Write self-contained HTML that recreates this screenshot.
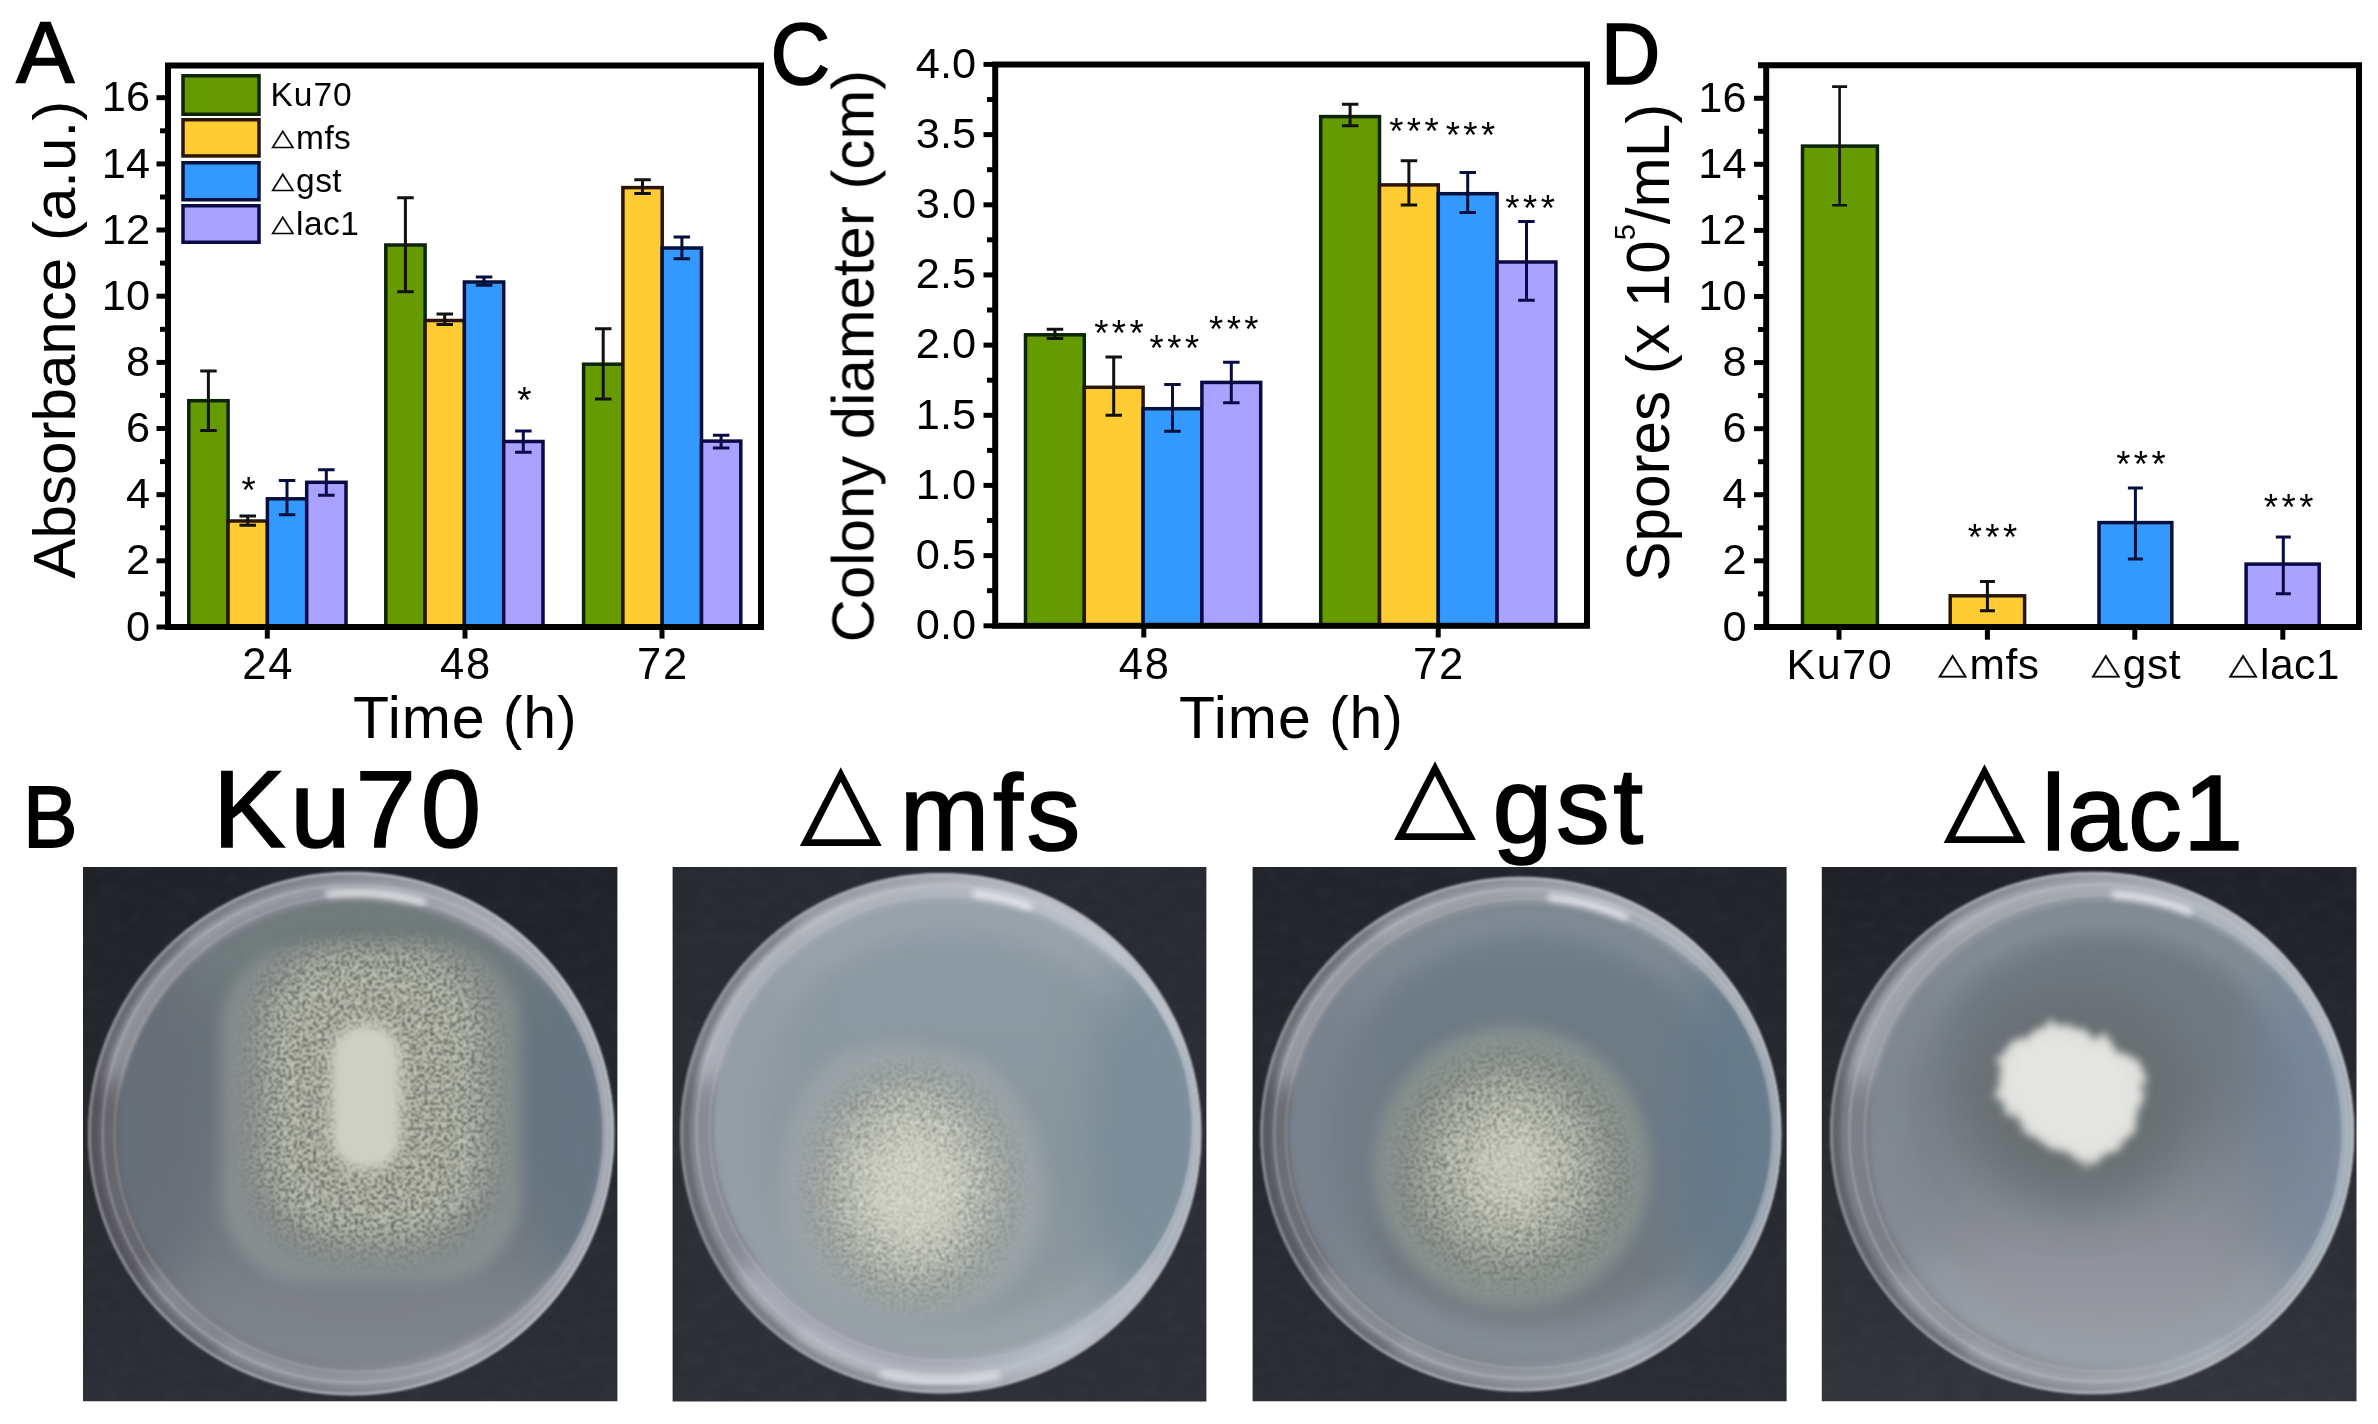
<!DOCTYPE html>
<html lang="en"><head><meta charset="utf-8"><title>Figure</title>
<style>html,body{margin:0;padding:0;background:#fff;overflow:hidden}svg{display:block}</style></head><body>
<svg width="2378" height="1424" viewBox="0 0 2378 1424" font-family="'Liberation Sans', sans-serif" fill="#000">
<rect width="2378" height="1424" fill="#fff"/>
<defs><filter color-interpolation-filters="sRGB" id="pg" x="0" y="0" width="2378" height="1424" filterUnits="userSpaceOnUse"><feGaussianBlur stdDeviation="0.55"/></filter></defs>
<g id="panelA" filter="url(#pg)">
<rect x="188.8" y="400.7" width="39.3" height="226.3" fill="#669b00" stroke="#0c2408" stroke-width="3.5"/>
<rect x="228.1" y="521.0" width="39.3" height="106.0" fill="#ffcc33" stroke="#2a1608" stroke-width="3.5"/>
<rect x="267.4" y="498.8" width="39.3" height="128.2" fill="#3399ff" stroke="#06103c" stroke-width="3.5"/>
<rect x="306.7" y="482.3" width="39.3" height="144.7" fill="#a9a2ff" stroke="#0a0a46" stroke-width="3.5"/>
<path d="M208.4 371.0V430.4M200.2 371.0h16.5M200.2 430.4h16.5" stroke="#111" stroke-width="3" fill="none"/>
<path d="M247.7 516.0V525.3M239.5 516.0h16.5M239.5 525.3h16.5" stroke="#111" stroke-width="3" fill="none"/>
<path d="M287.0 480.6V514.7M278.8 480.6h16.5M278.8 514.7h16.5" stroke="#06103c" stroke-width="3" fill="none"/>
<path d="M326.3 469.7V495.3M318.1 469.7h16.5M318.1 495.3h16.5" stroke="#0a0a46" stroke-width="3" fill="none"/>
<rect x="385.8" y="245.0" width="39.3" height="382.0" fill="#669b00" stroke="#0c2408" stroke-width="3.5"/>
<rect x="425.1" y="320.5" width="39.3" height="306.5" fill="#ffcc33" stroke="#2a1608" stroke-width="3.5"/>
<rect x="464.4" y="282.0" width="39.3" height="345.0" fill="#3399ff" stroke="#06103c" stroke-width="3.5"/>
<rect x="503.7" y="441.5" width="39.3" height="185.5" fill="#a9a2ff" stroke="#0a0a46" stroke-width="3.5"/>
<path d="M405.4 197.8V291.7M397.2 197.8h16.5M397.2 291.7h16.5" stroke="#111" stroke-width="3" fill="none"/>
<path d="M444.7 314.1V324.6M436.5 314.1h16.5M436.5 324.6h16.5" stroke="#111" stroke-width="3" fill="none"/>
<path d="M484.0 277.0V285.3M475.8 277.0h16.5M475.8 285.3h16.5" stroke="#06103c" stroke-width="3" fill="none"/>
<path d="M523.3 430.9V452.3M515.1 430.9h16.5M515.1 452.3h16.5" stroke="#0a0a46" stroke-width="3" fill="none"/>
<rect x="583.6" y="364.2" width="39.3" height="262.8" fill="#669b00" stroke="#0c2408" stroke-width="3.5"/>
<rect x="622.9" y="187.6" width="39.3" height="439.4" fill="#ffcc33" stroke="#2a1608" stroke-width="3.5"/>
<rect x="662.2" y="248.0" width="39.3" height="379.0" fill="#3399ff" stroke="#06103c" stroke-width="3.5"/>
<rect x="701.5" y="441.1" width="39.3" height="185.9" fill="#a9a2ff" stroke="#0a0a46" stroke-width="3.5"/>
<path d="M603.2 328.7V399.0M595.0 328.7h16.5M595.0 399.0h16.5" stroke="#111" stroke-width="3" fill="none"/>
<path d="M642.5 179.7V193.6M634.3 179.7h16.5M634.3 193.6h16.5" stroke="#111" stroke-width="3" fill="none"/>
<path d="M681.9 237.0V258.8M673.6 237.0h16.5M673.6 258.8h16.5" stroke="#06103c" stroke-width="3" fill="none"/>
<path d="M721.1 435.3V448.0M712.9 435.3h16.5M712.9 448.0h16.5" stroke="#0a0a46" stroke-width="3" fill="none"/>
<rect x="168.0" y="65.5" width="593.0" height="561.5" fill="none" stroke="#000" stroke-width="6"/>
<path d="M156.5 627.0H168.0" stroke="#000" stroke-width="5"/>
<text x="150.0" y="640.6" font-size="43.3" text-anchor="end" >0</text>
<path d="M160 593.9H168.0" stroke="#000" stroke-width="5"/>
<path d="M156.5 560.8H168.0" stroke="#000" stroke-width="5"/>
<text x="150.0" y="574.4" font-size="43.3" text-anchor="end" >2</text>
<path d="M160 527.8H168.0" stroke="#000" stroke-width="5"/>
<path d="M156.5 494.7H168.0" stroke="#000" stroke-width="5"/>
<text x="150.0" y="508.3" font-size="43.3" text-anchor="end" >4</text>
<path d="M160 461.6H168.0" stroke="#000" stroke-width="5"/>
<path d="M156.5 428.5H168.0" stroke="#000" stroke-width="5"/>
<text x="150.0" y="442.1" font-size="43.3" text-anchor="end" >6</text>
<path d="M160 395.4H168.0" stroke="#000" stroke-width="5"/>
<path d="M156.5 362.4H168.0" stroke="#000" stroke-width="5"/>
<text x="150.0" y="376.0" font-size="43.3" text-anchor="end" >8</text>
<path d="M160 329.3H168.0" stroke="#000" stroke-width="5"/>
<path d="M156.5 296.2H168.0" stroke="#000" stroke-width="5"/>
<text x="150.0" y="309.8" font-size="43.3" text-anchor="end" >10</text>
<path d="M160 263.1H168.0" stroke="#000" stroke-width="5"/>
<path d="M156.5 230.0H168.0" stroke="#000" stroke-width="5"/>
<text x="150.0" y="243.6" font-size="43.3" text-anchor="end" >12</text>
<path d="M160 197.0H168.0" stroke="#000" stroke-width="5"/>
<path d="M156.5 163.9H168.0" stroke="#000" stroke-width="5"/>
<text x="150.0" y="177.5" font-size="43.3" text-anchor="end" >14</text>
<path d="M160 130.8H168.0" stroke="#000" stroke-width="5"/>
<path d="M156.5 97.7H168.0" stroke="#000" stroke-width="5"/>
<text x="150.0" y="111.3" font-size="43.3" text-anchor="end" >16</text>
<path d="M267.3 627.0V638.6" stroke="#000" stroke-width="5"/>
<text x="268.2" y="679.2" font-size="43.5" text-anchor="middle" letter-spacing="1.8">24</text>
<path d="M465 627.0V638.6" stroke="#000" stroke-width="5"/>
<text x="465.9" y="679.2" font-size="43.5" text-anchor="middle" letter-spacing="1.8">48</text>
<path d="M662 627.0V638.6" stroke="#000" stroke-width="5"/>
<text x="662.9" y="679.2" font-size="43.5" text-anchor="middle" letter-spacing="1.8">72</text>
<text x="465.3" y="738.0" font-size="59" text-anchor="middle" letter-spacing="0.9">Time (h)</text>
<text transform="translate(74.5 339.65) rotate(-90)" font-size="60.1" text-anchor="middle">Absorbance (a.u.)</text>
<rect x="183" y="75.75" width="76" height="38.5" fill="#669b00" stroke="#0c2408" stroke-width="3.5"/>
<rect x="183" y="119.75" width="76" height="36.19999999999999" fill="#ffcc33" stroke="#2a1608" stroke-width="3.5"/>
<rect x="183" y="162.75" width="76" height="37.0" fill="#3399ff" stroke="#06103c" stroke-width="3.5"/>
<rect x="183" y="205.75" width="76" height="36.5" fill="#a9a2ff" stroke="#0a0a46" stroke-width="3.5"/>
<text x="270.5" y="105.9" font-size="33.5" text-anchor="start" letter-spacing="1.0">Ku70</text>
<text x="269.5" y="149.2" font-size="33.5" text-anchor="start" letter-spacing="0.4"><tspan font-family="NanumGothic, sans-serif" font-size="28.3" stroke="#000" stroke-width="0.7" letter-spacing="0">△</tspan>mfs</text>
<text x="269.5" y="192.2" font-size="33.5" text-anchor="start" letter-spacing="0.4"><tspan font-family="NanumGothic, sans-serif" font-size="28.3" stroke="#000" stroke-width="0.7" letter-spacing="0">△</tspan>gst</text>
<text x="269.5" y="234.6" font-size="33.5" text-anchor="start" letter-spacing="0.4"><tspan font-family="NanumGothic, sans-serif" font-size="28.3" stroke="#000" stroke-width="0.7" letter-spacing="0">△</tspan>lac1</text>
<text x="248.6" y="503.3" font-size="36.5" text-anchor="middle" >*</text>
<text x="524.4" y="413.3" font-size="36.5" text-anchor="middle" >*</text>
<text x="16.3" y="83.0" font-size="87" text-anchor="start" stroke="#000" stroke-width="1.6">A</text>
</g>
<g id="panelC" filter="url(#pg)">
<rect x="1025.5" y="334.8" width="58.8" height="291.0" fill="#669b00" stroke="#0c2408" stroke-width="3.5"/>
<rect x="1084.3" y="387.3" width="58.8" height="238.5" fill="#ffcc33" stroke="#2a1608" stroke-width="3.5"/>
<rect x="1143.1" y="408.7" width="58.8" height="217.1" fill="#3399ff" stroke="#06103c" stroke-width="3.5"/>
<rect x="1201.9" y="382.4" width="58.8" height="243.4" fill="#a9a2ff" stroke="#0a0a46" stroke-width="3.5"/>
<path d="M1054.9 329.3V338.5M1046.7 329.3h16.5M1046.7 338.5h16.5" stroke="#111" stroke-width="3" fill="none"/>
<path d="M1113.7 357.1V415.3M1105.5 357.1h16.5M1105.5 415.3h16.5" stroke="#111" stroke-width="3" fill="none"/>
<path d="M1172.5 384.4V431.2M1164.2 384.4h16.5M1164.2 431.2h16.5" stroke="#06103c" stroke-width="3" fill="none"/>
<path d="M1231.3 362.2V402.7M1223.1 362.2h16.5M1223.1 402.7h16.5" stroke="#0a0a46" stroke-width="3" fill="none"/>
<rect x="1320.7" y="116.6" width="58.8" height="509.2" fill="#669b00" stroke="#0c2408" stroke-width="3.5"/>
<rect x="1379.5" y="184.9" width="58.8" height="440.9" fill="#ffcc33" stroke="#2a1608" stroke-width="3.5"/>
<rect x="1438.3" y="193.7" width="58.8" height="432.1" fill="#3399ff" stroke="#06103c" stroke-width="3.5"/>
<rect x="1497.1" y="262.0" width="58.8" height="363.8" fill="#a9a2ff" stroke="#0a0a46" stroke-width="3.5"/>
<path d="M1350.1 104.2V125.7M1341.9 104.2h16.5M1341.9 125.7h16.5" stroke="#111" stroke-width="3" fill="none"/>
<path d="M1408.9 160.8V204.9M1400.7 160.8h16.5M1400.7 204.9h16.5" stroke="#111" stroke-width="3" fill="none"/>
<path d="M1467.7 172.5V212.5M1459.5 172.5h16.5M1459.5 212.5h16.5" stroke="#06103c" stroke-width="3" fill="none"/>
<path d="M1526.5 221.5V300.2M1518.2 221.5h16.5M1518.2 300.2h16.5" stroke="#0a0a46" stroke-width="3" fill="none"/>
<rect x="995.2" y="64.5" width="591.8" height="561.3" fill="none" stroke="#000" stroke-width="6"/>
<path d="M983.5 625.8H995.2" stroke="#000" stroke-width="5"/>
<text x="976.0" y="639.0" font-size="43.3" text-anchor="end" >0.0</text>
<path d="M987 590.7H995.2" stroke="#000" stroke-width="5"/>
<path d="M983.5 555.6H995.2" stroke="#000" stroke-width="5"/>
<text x="976.0" y="568.8" font-size="43.3" text-anchor="end" >0.5</text>
<path d="M987 520.5H995.2" stroke="#000" stroke-width="5"/>
<path d="M983.5 485.4H995.2" stroke="#000" stroke-width="5"/>
<text x="976.0" y="498.6" font-size="43.3" text-anchor="end" >1.0</text>
<path d="M987 450.4H995.2" stroke="#000" stroke-width="5"/>
<path d="M983.5 415.3H995.2" stroke="#000" stroke-width="5"/>
<text x="976.0" y="428.5" font-size="43.3" text-anchor="end" >1.5</text>
<path d="M987 380.2H995.2" stroke="#000" stroke-width="5"/>
<path d="M983.5 345.1H995.2" stroke="#000" stroke-width="5"/>
<text x="976.0" y="358.3" font-size="43.3" text-anchor="end" >2.0</text>
<path d="M987 310.0H995.2" stroke="#000" stroke-width="5"/>
<path d="M983.5 274.9H995.2" stroke="#000" stroke-width="5"/>
<text x="976.0" y="288.1" font-size="43.3" text-anchor="end" >2.5</text>
<path d="M987 239.8H995.2" stroke="#000" stroke-width="5"/>
<path d="M983.5 204.8H995.2" stroke="#000" stroke-width="5"/>
<text x="976.0" y="217.9" font-size="43.3" text-anchor="end" >3.0</text>
<path d="M987 169.7H995.2" stroke="#000" stroke-width="5"/>
<path d="M983.5 134.6H995.2" stroke="#000" stroke-width="5"/>
<text x="976.0" y="147.8" font-size="43.3" text-anchor="end" >3.5</text>
<path d="M987 99.5H995.2" stroke="#000" stroke-width="5"/>
<path d="M983.5 64.4H995.2" stroke="#000" stroke-width="5"/>
<text x="976.0" y="77.6" font-size="43.3" text-anchor="end" >4.0</text>
<path d="M1143.8 625.8V637.5" stroke="#000" stroke-width="5"/>
<text x="1144.7" y="679.2" font-size="43.5" text-anchor="middle" letter-spacing="1.8">48</text>
<path d="M1438.2 625.8V637.5" stroke="#000" stroke-width="5"/>
<text x="1439.1" y="679.2" font-size="43.5" text-anchor="middle" letter-spacing="1.8">72</text>
<text x="1291.4" y="738.0" font-size="59" text-anchor="middle" letter-spacing="0.9">Time (h)</text>
<text transform="translate(873.5 356.1) rotate(-90)" font-size="59.9" text-anchor="middle">Colony diameter (cm)</text>
<text x="1415.7" y="144.2" font-size="36.5" text-anchor="middle" letter-spacing="3.5">***</text>
<text x="1472.2" y="147.5" font-size="36.5" text-anchor="middle" letter-spacing="3.5">***</text>
<text x="1531.9" y="220.8" font-size="36.5" text-anchor="middle" letter-spacing="3.5">***</text>
<text x="1120.7" y="345.5" font-size="36.5" text-anchor="middle" letter-spacing="3.5">***</text>
<text x="1176.1" y="361.1" font-size="36.5" text-anchor="middle" letter-spacing="3.5">***</text>
<text x="1235.5" y="342.2" font-size="36.5" text-anchor="middle" letter-spacing="3.5">***</text>
<text transform="translate(770.5 84.2) scale(0.95 1)" font-size="87" stroke="#000" stroke-width="1.6">C</text>
</g>
<g id="panelD" filter="url(#pg)">
<rect x="1802.5" y="146.1" width="74.9" height="480.8" fill="#669b00" stroke="#0c2408" stroke-width="3.5"/>
<rect x="1950.2" y="595.8" width="74.4" height="31.1" fill="#ffcc33" stroke="#2a1608" stroke-width="3.5"/>
<rect x="2099.0" y="522.6" width="72.8" height="104.3" fill="#3399ff" stroke="#06103c" stroke-width="3.5"/>
<rect x="2246.1" y="564.1" width="73.1" height="62.8" fill="#a9a2ff" stroke="#0a0a46" stroke-width="3.5"/>
<path d="M1839.6 86.6V205.2M1832.1 86.6h15M1832.1 205.2h15" stroke="#111" stroke-width="2.6" fill="none"/>
<path d="M1987.4 581.5V610.8M1979.9 581.5h15M1979.9 610.8h15" stroke="#111" stroke-width="3" fill="none"/>
<path d="M2135.4 487.9V558.9M2127.9 487.9h15M2127.9 558.9h15" stroke="#06103c" stroke-width="3" fill="none"/>
<path d="M2283.3 536.9V593.8M2275.8 536.9h15M2275.8 593.8h15" stroke="#0a0a46" stroke-width="3" fill="none"/>
<path d="M1758 65.3H2359.0V626.9H1754M1766.2 65.3V626.9" fill="none" stroke="#000" stroke-width="6"/>
<path d="M1754 626.9H1766.2" stroke="#000" stroke-width="5"/>
<text x="1746.5" y="640.5" font-size="43.3" text-anchor="end" >0</text>
<path d="M1758 593.9H1766.2" stroke="#000" stroke-width="5"/>
<path d="M1754 560.8H1766.2" stroke="#000" stroke-width="5"/>
<text x="1746.5" y="574.4" font-size="43.3" text-anchor="end" >2</text>
<path d="M1758 527.8H1766.2" stroke="#000" stroke-width="5"/>
<path d="M1754 494.7H1766.2" stroke="#000" stroke-width="5"/>
<text x="1746.5" y="508.3" font-size="43.3" text-anchor="end" >4</text>
<path d="M1758 461.7H1766.2" stroke="#000" stroke-width="5"/>
<path d="M1754 428.7H1766.2" stroke="#000" stroke-width="5"/>
<text x="1746.5" y="442.3" font-size="43.3" text-anchor="end" >6</text>
<path d="M1758 395.6H1766.2" stroke="#000" stroke-width="5"/>
<path d="M1754 362.6H1766.2" stroke="#000" stroke-width="5"/>
<text x="1746.5" y="376.2" font-size="43.3" text-anchor="end" >8</text>
<path d="M1758 329.5H1766.2" stroke="#000" stroke-width="5"/>
<path d="M1754 296.5H1766.2" stroke="#000" stroke-width="5"/>
<text x="1746.5" y="310.1" font-size="43.3" text-anchor="end" >10</text>
<path d="M1758 263.5H1766.2" stroke="#000" stroke-width="5"/>
<path d="M1754 230.4H1766.2" stroke="#000" stroke-width="5"/>
<text x="1746.5" y="244.0" font-size="43.3" text-anchor="end" >12</text>
<path d="M1758 197.4H1766.2" stroke="#000" stroke-width="5"/>
<path d="M1754 164.3H1766.2" stroke="#000" stroke-width="5"/>
<text x="1746.5" y="177.9" font-size="43.3" text-anchor="end" >14</text>
<path d="M1758 131.3H1766.2" stroke="#000" stroke-width="5"/>
<path d="M1754 98.3H1766.2" stroke="#000" stroke-width="5"/>
<text x="1746.5" y="111.9" font-size="43.3" text-anchor="end" >16</text>
<path d="M1839 626.9V639.7" stroke="#000" stroke-width="5"/>
<text x="1839.8" y="678.9" font-size="43" text-anchor="middle" letter-spacing="1.6">Ku70</text>
<path d="M1987.4 626.9V639.7" stroke="#000" stroke-width="5"/>
<text x="1987.7" y="678.9" font-size="42.5" text-anchor="middle" letter-spacing="0.5"><tspan font-family="NanumGothic, sans-serif" font-size="35.9" stroke="#000" stroke-width="0.7" letter-spacing="0">△</tspan>mfs</text>
<path d="M2134.8 626.9V639.7" stroke="#000" stroke-width="5"/>
<text x="2135.1" y="678.9" font-size="42.5" text-anchor="middle" letter-spacing="0.5"><tspan font-family="NanumGothic, sans-serif" font-size="35.9" stroke="#000" stroke-width="0.7" letter-spacing="0">△</tspan>gst</text>
<path d="M2282.8 626.9V639.7" stroke="#000" stroke-width="5"/>
<text x="2283.1" y="678.9" font-size="42.5" text-anchor="middle" letter-spacing="0.5"><tspan font-family="NanumGothic, sans-serif" font-size="35.9" stroke="#000" stroke-width="0.7" letter-spacing="0">△</tspan>lac1</text>
<text transform="translate(1669 342.7) rotate(-90)" font-size="60.2" text-anchor="middle">Spores (x 10<tspan font-size="29" dy="-34">5</tspan><tspan dy="34">/mL)</tspan></text>
<text x="1994.2" y="549.9" font-size="36.5" text-anchor="middle" letter-spacing="3.5">***</text>
<text x="2142.7" y="476.7" font-size="36.5" text-anchor="middle" letter-spacing="3.5">***</text>
<text x="2290.4" y="519.8" font-size="36.5" text-anchor="middle" letter-spacing="3.5">***</text>
<text transform="translate(1600.8 84.4) scale(0.95 1)" font-size="87" stroke="#000" stroke-width="1.6">D</text>
</g>
<g id="panelB">
<defs>
<filter color-interpolation-filters="sRGB" id="soft" x="-5%" y="-5%" width="110%" height="110%"><feGaussianBlur stdDeviation="0.9"/></filter>
<filter color-interpolation-filters="sRGB" id="b3" x="-50%" y="-50%" width="200%" height="200%"><feGaussianBlur stdDeviation="3"/></filter>
<filter color-interpolation-filters="sRGB" id="b8" x="-60%" y="-60%" width="220%" height="220%"><feGaussianBlur stdDeviation="8"/></filter>
<filter color-interpolation-filters="sRGB" id="b14" x="-80%" y="-80%" width="260%" height="260%"><feGaussianBlur stdDeviation="14"/></filter>
<filter color-interpolation-filters="sRGB" id="b25" x="-150%" y="-150%" width="400%" height="400%"><feGaussianBlur stdDeviation="25"/></filter>
<filter color-interpolation-filters="sRGB" id="speckD" x="-30%" y="-30%" width="160%" height="160%">
  <feGaussianBlur in="SourceGraphic" stdDeviation="13" result="m"/>
  <feTurbulence type="fractalNoise" baseFrequency="0.36" numOctaves="2" seed="11" result="n"/>
  <feColorMatrix in="n" type="matrix" values="0 0 0 0 0.37  0 0 0 0 0.39  0 0 0 0 0.35  -12 0 0 0 5.9" result="d"/>
  <feComposite in="d" in2="m" operator="in" result="o"/>
  <feGaussianBlur in="o" stdDeviation="0.45"/>
</filter>
<filter color-interpolation-filters="sRGB" id="speckL" x="-30%" y="-30%" width="160%" height="160%">
  <feGaussianBlur in="SourceGraphic" stdDeviation="13" result="m"/>
  <feTurbulence type="fractalNoise" baseFrequency="0.38" numOctaves="2" seed="5" result="n"/>
  <feColorMatrix in="n" type="matrix" values="0 0 0 0 0.88  0 0 0 0 0.89  0 0 0 0 0.83  0 12 0 0 -6.5" result="d"/>
  <feComposite in="d" in2="m" operator="in" result="o"/>
  <feGaussianBlur in="o" stdDeviation="0.45"/>
</filter>
<filter color-interpolation-filters="sRGB" id="bgn" x="0" y="0" width="100%" height="100%">
  <feTurbulence type="fractalNoise" baseFrequency="0.05 0.09" numOctaves="3" seed="2" result="n"/>
  <feColorMatrix in="n" type="matrix" values="0 0 0 0 0.45  0 0 0 0 0.47  0 0 0 0 0.52  0.7 0 0 0 -0.28"/>
  <feComposite in2="SourceAlpha" operator="in"/>
</filter>
<filter color-interpolation-filters="sRGB" id="fuzz" x="-30%" y="-30%" width="160%" height="160%">
  <feTurbulence type="fractalNoise" baseFrequency="0.09" numOctaves="2" seed="8" result="n"/>
  <feDisplacementMap in="SourceGraphic" in2="n" scale="20" xChannelSelector="R" yChannelSelector="G" result="d"/>
  <feGaussianBlur in="d" stdDeviation="4.5"/>
</filter>
</defs>
<defs><clipPath id="cp1"><rect x="83" y="867" width="534.4" height="534.3"/></clipPath>
<clipPath id="ca1"><ellipse cx="360.3" cy="1133.5" rx="242.3" ry="235.5"/></clipPath>
<clipPath id="co1"><ellipse cx="351.2" cy="1133.6" rx="263.5" ry="262.1"/></clipPath>
<linearGradient id="ag1" x1="0" y1="0" x2="0" y2="1"><stop offset="0" stop-color="#6d7879"/><stop offset="0.3" stop-color="#6e787b"/><stop offset="0.75" stop-color="#787e84"/><stop offset="1" stop-color="#81868c"/></linearGradient>
<linearGradient id="rm1" x1="0" y1="0" x2="1" y2="0"><stop offset="0" stop-color="#66676d"/><stop offset="0.45" stop-color="#66676d"/><stop offset="0.9" stop-color="#a0a5b0"/><stop offset="1" stop-color="#a0a5b0"/></linearGradient>
<linearGradient id="ed1" x1="0" y1="0" x2="1" y2="0"><stop offset="0" stop-color="#8c8c92"/><stop offset="0.5" stop-color="#a8abb1"/><stop offset="1" stop-color="#b9bdc3"/></linearGradient>
<linearGradient id="gp1" x1="0" y1="0" x2="1" y2="0"><stop offset="0" stop-color="#3c3c41" stop-opacity="0.75"/><stop offset="0.35" stop-color="#3c3c41" stop-opacity="0.45"/><stop offset="0.7" stop-color="#3c3c41" stop-opacity="0"/><stop offset="1" stop-color="#3c3c41" stop-opacity="0"/></linearGradient>
<linearGradient id="bg1" x1="0" y1="0" x2="0" y2="1"><stop offset="0" stop-color="#1f2226"/><stop offset="1" stop-color="#2c2f35"/></linearGradient>
</defs>
<g clip-path="url(#cp1)"><g filter="url(#soft)">
<rect x="79" y="863" width="542.4" height="542.3" fill="url(#bg1)"/>
<rect x="79" y="863" width="542.4" height="542.3" fill="#000" filter="url(#bgn)" opacity="0.2"/>
<ellipse cx="351.2" cy="1133.6" rx="262.9" ry="261.5" fill="url(#rm1)"/>
<g clip-path="url(#co1)">
<path d="M109.8 1082.1A251.4 247.3 0 0 1 592.0 1049.0" fill="none" stroke="#a8abb1" stroke-width="30" opacity="0.85" filter="url(#b14)"/>
<path d="M561.7 1275.4A251.4 247.3 0 0 1 149.8 1275.4" fill="none" stroke="#9c9fa6" stroke-width="30" opacity="0.8" filter="url(#b14)"/>
<ellipse cx="351.2" cy="1133.6" rx="257.0" ry="255.60000000000002" fill="none" stroke="url(#gp1)" stroke-width="5" filter="url(#b3)"/>
<ellipse cx="351.2" cy="1133.6" rx="261.9" ry="260.5" fill="none" stroke="url(#ed1)" stroke-width="2.8"/>
<ellipse cx="355.3" cy="1133.6" rx="252.6" ry="248.8" fill="none" stroke="#c3c6cc" stroke-opacity="0.4" stroke-width="2.2"/>
<ellipse cx="358.5" cy="1133.5" rx="244.1" ry="238.4" fill="none" stroke="#c3c6cc" stroke-opacity="0.3" stroke-width="2.2"/>
<ellipse cx="360.3" cy="1133.5" rx="239.3" ry="232.5" fill="url(#ag1)" filter="url(#b3)"/>
<g clip-path="url(#ca1)">
<ellipse cx="360.3" cy="1133.5" rx="227.3" ry="220.5" fill="none" stroke="#7f878c" stroke-opacity="0.3" stroke-width="34" filter="url(#b14)"/>
<ellipse cx="140" cy="1120" rx="80" ry="190" fill="#656c76" opacity="0.8" filter="url(#b25)"/>
<ellipse cx="575" cy="1110" rx="60" ry="180" fill="#637381" opacity="0.85" filter="url(#b25)"/>
<rect x="222" y="943" width="298" height="338" rx="85" fill="#8a9192" opacity="0.95" filter="url(#b8)"/>
<rect x="262" y="950" width="224" height="292" rx="85" fill="#c3c6b9" opacity="0.95" filter="url(#b14)"/>
<rect x="248" y="936" width="252" height="320" rx="90" fill="#000" filter="url(#speckD)"/>
<rect x="331" y="1024" width="70" height="146" rx="32" fill="#cbcec1" filter="url(#b8)"/>
<rect x="337" y="1030" width="58" height="134" rx="28" fill="#cdd0c3" filter="url(#b3)"/>
</g>
<path d="M329.4 893.8A245 241 0 0 1 422.5 901.8" fill="none" stroke="#f2f3f6" stroke-width="7" stroke-linecap="round" opacity="0.9" filter="url(#b3)"/>
<path d="M190.0 942.0A252 250 0 0 1 514.0 942.0" fill="none" stroke="#c9cdd3" stroke-width="8" stroke-linecap="round" opacity="0.5" filter="url(#b8)"/>
<path d="M478.0 1349.1A252 249 0 0 1 226.0 1349.1" fill="none" stroke="#c4c8cf" stroke-width="9" stroke-linecap="round" opacity="0.5" filter="url(#b8)"/>
</g></g></g>
<defs><clipPath id="cp2"><rect x="672.6" y="867" width="533.8" height="534.5"/></clipPath>
<clipPath id="ca2"><ellipse cx="952.7" cy="1127" rx="238.7" ry="229"/></clipPath>
<clipPath id="co2"><ellipse cx="940.8" cy="1133.2" rx="261" ry="260.5"/></clipPath>
<linearGradient id="ag2" x1="0" y1="0" x2="0" y2="1"><stop offset="0" stop-color="#8e9ba5"/><stop offset="0.5" stop-color="#8a979f"/><stop offset="1" stop-color="#8e999d"/></linearGradient>
<linearGradient id="rm2" x1="0" y1="0" x2="1" y2="0"><stop offset="0" stop-color="#888b94"/><stop offset="0.45" stop-color="#888b94"/><stop offset="0.9" stop-color="#a8b2bc"/><stop offset="1" stop-color="#a8b2bc"/></linearGradient>
<linearGradient id="ed2" x1="0" y1="0" x2="1" y2="0"><stop offset="0" stop-color="#8c8c92"/><stop offset="0.5" stop-color="#a8abb1"/><stop offset="1" stop-color="#b9bdc3"/></linearGradient>
<linearGradient id="gp2" x1="0" y1="0" x2="1" y2="0"><stop offset="0" stop-color="#3c3c41" stop-opacity="0.75"/><stop offset="0.35" stop-color="#3c3c41" stop-opacity="0.45"/><stop offset="0.7" stop-color="#3c3c41" stop-opacity="0"/><stop offset="1" stop-color="#3c3c41" stop-opacity="0"/></linearGradient>
<linearGradient id="bg2" x1="0" y1="0" x2="0" y2="1"><stop offset="0" stop-color="#282a31"/><stop offset="1" stop-color="#2e3038"/></linearGradient>
</defs>
<g clip-path="url(#cp2)"><g filter="url(#soft)">
<rect x="668.6" y="863" width="541.8" height="542.5" fill="url(#bg2)"/>
<rect x="668.6" y="863" width="541.8" height="542.5" fill="#000" filter="url(#bgn)" opacity="0.2"/>
<ellipse cx="940.8" cy="1133.2" rx="260.4" ry="259.9" fill="url(#rm2)"/>
<g clip-path="url(#co2)">
<path d="M703.8 1079.5A248.3 243.2 0 0 1 1180.1 1046.9" fill="none" stroke="#c3c8d0" stroke-width="30" opacity="0.85" filter="url(#b14)"/>
<path d="M1150.2 1269.6A248.3 243.2 0 0 1 743.3 1269.6" fill="none" stroke="#bfc3cc" stroke-width="30" opacity="0.8" filter="url(#b14)"/>
<ellipse cx="940.8" cy="1133.2" rx="254.5" ry="254.0" fill="none" stroke="url(#gp2)" stroke-width="5" filter="url(#b3)"/>
<ellipse cx="940.8" cy="1133.2" rx="259.4" ry="258.9" fill="none" stroke="url(#ed2)" stroke-width="2.8"/>
<ellipse cx="946.2" cy="1130.4" rx="249.6" ry="245.0" fill="none" stroke="#c3c6cc" stroke-opacity="0.4" stroke-width="2.2"/>
<ellipse cx="950.3" cy="1128.2" rx="240.8" ry="232.9" fill="none" stroke="#c3c6cc" stroke-opacity="0.3" stroke-width="2.2"/>
<ellipse cx="952.7" cy="1127" rx="235.7" ry="226" fill="url(#ag2)" filter="url(#b3)"/>
<g clip-path="url(#ca2)">
<ellipse cx="952.7" cy="1127" rx="223.7" ry="214" fill="none" stroke="#a3abb4" stroke-opacity="0.6" stroke-width="34" filter="url(#b14)"/>
<ellipse cx="1165" cy="1140" rx="80" ry="200" fill="#788b98" opacity="0.85" filter="url(#b25)"/>
<ellipse cx="745" cy="1110" rx="50" ry="170" fill="#939da5" opacity="0.7" filter="url(#b25)"/>
<path d="M842 1050 Q905 1030 985 1060 Q1045 1110 1048 1200 Q1040 1290 960 1318 Q880 1330 815 1290 Q770 1240 778 1170 Q790 1080 842 1050Z" fill="#9aa3a7" opacity="0.9" filter="url(#b8)"/>
<ellipse cx="912" cy="1185" rx="88" ry="102" fill="#c0c3b8" opacity="0.95" filter="url(#b25)"/>
<ellipse cx="912" cy="1183" rx="50" ry="60" fill="#d0d2c6" opacity="0.9" filter="url(#b14)"/>
<ellipse cx="912" cy="1185" rx="106" ry="120" fill="#000" filter="url(#speckD)" opacity="0.6"/>
<ellipse cx="912" cy="1190" rx="42" ry="50" fill="#d0d2c6" opacity="0.6" filter="url(#b14)"/>
<ellipse cx="912" cy="1185" rx="85" ry="98" fill="#000" filter="url(#speckL)" opacity="0.85"/>
</g>
<path d="M975.6 893.8A243 238 0 0 1 1029.1 906.4" fill="none" stroke="#f4f5f8" stroke-width="7" stroke-linecap="round" opacity="0.9" filter="url(#b3)"/>
<path d="M800.0 927.0A251 249 0 0 1 1121.5 954.9" fill="none" stroke="#d3d7de" stroke-width="9" stroke-linecap="round" opacity="0.55" filter="url(#b8)"/>
<path d="M996.0 1375.5A250 250 0 0 1 883.5 1373.6" fill="none" stroke="#eceef2" stroke-width="9" stroke-linecap="round" opacity="0.8" filter="url(#b3)"/>
<path d="M1087.4 1334.1A250 248 0 0 1 800.6 1334.1" fill="none" stroke="#cdd1d8" stroke-width="12" stroke-linecap="round" opacity="0.55" filter="url(#b8)"/>
</g></g></g>
<defs><clipPath id="cp3"><rect x="1252.6" y="867" width="534.0" height="534.3"/></clipPath>
<clipPath id="ca3"><ellipse cx="1530.4" cy="1133.3" rx="241" ry="231.8"/></clipPath>
<clipPath id="co3"><ellipse cx="1520.8" cy="1134.2" rx="261" ry="257.6"/></clipPath>
<linearGradient id="ag3" x1="0" y1="0" x2="0" y2="1"><stop offset="0" stop-color="#6f7d88"/><stop offset="0.5" stop-color="#707c86"/><stop offset="0.8" stop-color="#727a81"/><stop offset="1" stop-color="#7c838a"/></linearGradient>
<linearGradient id="rm3" x1="0" y1="0" x2="1" y2="0"><stop offset="0" stop-color="#6c6e75"/><stop offset="0.45" stop-color="#6c6e75"/><stop offset="0.9" stop-color="#97a3b0"/><stop offset="1" stop-color="#97a3b0"/></linearGradient>
<linearGradient id="ed3" x1="0" y1="0" x2="1" y2="0"><stop offset="0" stop-color="#8c8c92"/><stop offset="0.5" stop-color="#a8abb1"/><stop offset="1" stop-color="#b9bdc3"/></linearGradient>
<linearGradient id="gp3" x1="0" y1="0" x2="1" y2="0"><stop offset="0" stop-color="#3c3c41" stop-opacity="0.75"/><stop offset="0.35" stop-color="#3c3c41" stop-opacity="0.45"/><stop offset="0.7" stop-color="#3c3c41" stop-opacity="0"/><stop offset="1" stop-color="#3c3c41" stop-opacity="0"/></linearGradient>
<linearGradient id="bg3" x1="0" y1="0" x2="0" y2="1"><stop offset="0" stop-color="#212428"/><stop offset="1" stop-color="#2a2d32"/></linearGradient>
</defs>
<g clip-path="url(#cp3)"><g filter="url(#soft)">
<rect x="1248.6" y="863" width="542.0" height="542.3" fill="url(#bg3)"/>
<rect x="1248.6" y="863" width="542.0" height="542.3" fill="#000" filter="url(#bgn)" opacity="0.2"/>
<ellipse cx="1520.8" cy="1134.2" rx="260.4" ry="257.0" fill="url(#rm3)"/>
<g clip-path="url(#co3)">
<path d="M1281.6 1083.2A249.5 243.2 0 0 1 1760.1 1050.6" fill="none" stroke="#b0b4ba" stroke-width="30" opacity="0.85" filter="url(#b14)"/>
<path d="M1730.0 1273.2A249.5 243.2 0 0 1 1321.2 1273.2" fill="none" stroke="#9aa0a7" stroke-width="30" opacity="0.8" filter="url(#b14)"/>
<ellipse cx="1520.8" cy="1134.2" rx="254.5" ry="251.10000000000002" fill="none" stroke="url(#gp3)" stroke-width="5" filter="url(#b3)"/>
<ellipse cx="1520.8" cy="1134.2" rx="259.4" ry="256.0" fill="none" stroke="url(#ed3)" stroke-width="2.8"/>
<ellipse cx="1525.1" cy="1133.8" rx="250.7" ry="244.6" fill="none" stroke="#c3c6cc" stroke-opacity="0.4" stroke-width="2.2"/>
<ellipse cx="1528.5" cy="1133.5" rx="242.6" ry="234.6" fill="none" stroke="#c3c6cc" stroke-opacity="0.3" stroke-width="2.2"/>
<ellipse cx="1530.4" cy="1133.3" rx="238" ry="228.8" fill="url(#ag3)" filter="url(#b3)"/>
<g clip-path="url(#ca3)">
<ellipse cx="1530.4" cy="1133.3" rx="226" ry="216.8" fill="none" stroke="#8f99a2" stroke-opacity="0.55" stroke-width="34" filter="url(#b14)"/>
<ellipse cx="1745" cy="1140" rx="75" ry="200" fill="#637889" opacity="0.85" filter="url(#b25)"/>
<ellipse cx="1325" cy="1130" rx="45" ry="170" fill="#767f8b" opacity="0.7" filter="url(#b25)"/>
<ellipse cx="1512" cy="1167" rx="138" ry="140" fill="#88928f" opacity="0.9" filter="url(#b8)"/>
<ellipse cx="1512" cy="1167" rx="96" ry="100" fill="#babdb2" opacity="0.95" filter="url(#b25)"/>
<ellipse cx="1512" cy="1167" rx="45" ry="50" fill="#cbcec0" opacity="0.9" filter="url(#b14)"/>
<ellipse cx="1512" cy="1167" rx="118" ry="120" fill="#000" filter="url(#speckD)" opacity="0.85"/>
<ellipse cx="1514" cy="1170" rx="38" ry="42" fill="#c9ccbe" opacity="0.6" filter="url(#b14)"/>
<ellipse cx="1512" cy="1167" rx="85" ry="88" fill="#000" filter="url(#speckL)" opacity="0.7"/>
</g>
<path d="M1551.4 897.3A243 238 0 0 1 1624.8 916.6" fill="none" stroke="#f2f3f6" stroke-width="7" stroke-linecap="round" opacity="0.9" filter="url(#b3)"/>
<path d="M1380.0 931.7A251 247 0 0 1 1701.5 959.3" fill="none" stroke="#cdd1d8" stroke-width="9" stroke-linecap="round" opacity="0.5" filter="url(#b8)"/>
<path d="M1649.0 1347.9A250 247 0 0 1 1399.0 1347.9" fill="none" stroke="#c6cad1" stroke-width="10" stroke-linecap="round" opacity="0.5" filter="url(#b8)"/>
</g></g></g>
<defs><clipPath id="cp4"><rect x="1821.8" y="867" width="534.7" height="534.3"/></clipPath>
<clipPath id="ca4"><ellipse cx="2106" cy="1133.2" rx="235.5" ry="235.5"/></clipPath>
<clipPath id="co4"><ellipse cx="2092.1" cy="1133" rx="262.5" ry="261.5"/></clipPath>
<linearGradient id="ag4" x1="0" y1="0" x2="0" y2="1"><stop offset="0" stop-color="#6e7a84"/><stop offset="0.4" stop-color="#727a83"/><stop offset="0.7" stop-color="#8a8e96"/><stop offset="1" stop-color="#9da0a8"/></linearGradient>
<linearGradient id="rm4" x1="0" y1="0" x2="1" y2="0"><stop offset="0" stop-color="#7c7f87"/><stop offset="0.45" stop-color="#7c7f87"/><stop offset="0.9" stop-color="#a0adb8"/><stop offset="1" stop-color="#a0adb8"/></linearGradient>
<linearGradient id="ed4" x1="0" y1="0" x2="1" y2="0"><stop offset="0" stop-color="#8c8c92"/><stop offset="0.5" stop-color="#a8abb1"/><stop offset="1" stop-color="#b9bdc3"/></linearGradient>
<linearGradient id="gp4" x1="0" y1="0" x2="1" y2="0"><stop offset="0" stop-color="#3c3c41" stop-opacity="0.75"/><stop offset="0.35" stop-color="#3c3c41" stop-opacity="0.45"/><stop offset="0.7" stop-color="#3c3c41" stop-opacity="0"/><stop offset="1" stop-color="#3c3c41" stop-opacity="0"/></linearGradient>
<linearGradient id="bg4" x1="0" y1="0" x2="0" y2="1"><stop offset="0" stop-color="#1f2127"/><stop offset="1" stop-color="#33353d"/></linearGradient>
</defs>
<g clip-path="url(#cp4)"><g filter="url(#soft)">
<rect x="1817.8" y="863" width="542.7" height="542.3" fill="url(#bg4)"/>
<rect x="1817.8" y="863" width="542.7" height="542.3" fill="#000" filter="url(#bgn)" opacity="0.2"/>
<ellipse cx="2092.1" cy="1133" rx="261.9" ry="260.9" fill="url(#rm4)"/>
<g clip-path="url(#co4)">
<path d="M1857.0 1081.7A247.5 247.0 0 0 1 2331.6 1048.6" fill="none" stroke="#b5b9c0" stroke-width="30" opacity="0.85" filter="url(#b14)"/>
<path d="M2301.8 1274.8A247.5 247.0 0 0 1 1896.3 1274.8" fill="none" stroke="#a3a7ae" stroke-width="30" opacity="0.8" filter="url(#b14)"/>
<ellipse cx="2092.1" cy="1133" rx="256.0" ry="255.0" fill="none" stroke="url(#gp4)" stroke-width="5" filter="url(#b3)"/>
<ellipse cx="2092.1" cy="1133" rx="260.9" ry="259.9" fill="none" stroke="url(#ed4)" stroke-width="2.8"/>
<ellipse cx="2098.4" cy="1133.1" rx="249.0" ry="248.5" fill="none" stroke="#c3c6cc" stroke-opacity="0.4" stroke-width="2.2"/>
<ellipse cx="2103.2" cy="1133.2" rx="238.5" ry="238.3" fill="none" stroke="#c3c6cc" stroke-opacity="0.3" stroke-width="2.2"/>
<ellipse cx="2106" cy="1133.2" rx="232.5" ry="232.5" fill="url(#ag4)" filter="url(#b3)"/>
<g clip-path="url(#ca4)">
<ellipse cx="2106" cy="1133.2" rx="220.5" ry="220.5" fill="none" stroke="#98a0a9" stroke-opacity="0.6" stroke-width="34" filter="url(#b14)"/>
<ellipse cx="1905" cy="1110" rx="50" ry="170" fill="#7c848e" opacity="0.7" filter="url(#b25)"/>
<ellipse cx="2310" cy="1110" rx="60" ry="190" fill="#73859a" opacity="0.7" filter="url(#b25)"/>
<ellipse cx="2078" cy="1096" rx="118" ry="110" fill="#676f71" opacity="0.92" filter="url(#b25)"/>
<path d="M2003 1049 L2048 1022 L2107 1038 L2146 1073 L2138 1130 L2093 1167 L2034 1138 L1997 1096Z" fill="#dfe0dc" filter="url(#fuzz)"/>
<path d="M2014 1056 L2050 1036 L2102 1050 L2132 1078 L2126 1124 L2090 1152 L2040 1128 L2010 1094Z" fill="#e5e6e3" filter="url(#b8)"/>
</g>
<path d="M2115.0 894.6A244 239 0 0 1 2189.4 911.4" fill="none" stroke="#f2f3f6" stroke-width="7" stroke-linecap="round" opacity="0.9" filter="url(#b3)"/>
<path d="M1951.5 928.2A252 250 0 0 1 2274.2 956.2" fill="none" stroke="#cfd3da" stroke-width="9" stroke-linecap="round" opacity="0.5" filter="url(#b8)"/>
<path d="M2221.0 1349.5A250 250 0 0 1 1971.0 1349.5" fill="none" stroke="#c8ccd3" stroke-width="10" stroke-linecap="round" opacity="0.5" filter="url(#b8)"/>
</g></g></g>
<text transform="translate(22.9 847.4) scale(0.94 1)" font-size="87" stroke="#000" stroke-width="1.8">B</text>
<text x="212.9" y="847.4" font-size="108.5" letter-spacing="4.9" stroke="#000" stroke-width="1.7">Ku70</text>
<text font-size="107.5" letter-spacing="3.7" stroke="#000" stroke-width="1.7"><tspan x="789.8" y="846.5" font-family="IPAGothic, sans-serif" font-size="102" stroke-width="0" letter-spacing="0">△</tspan><tspan x="899.8" y="849.5">mfs</tspan></text>
<text font-size="107.5" letter-spacing="3.7" stroke="#000" stroke-width="1.7"><tspan x="1384.0" y="840.8" font-family="IPAGothic, sans-serif" font-size="102" stroke-width="0" letter-spacing="0">△</tspan><tspan x="1492.4" y="843.4">gst</tspan></text>
<text font-size="107.5" letter-spacing="1.4" stroke="#000" stroke-width="1.7"><tspan x="1933.4" y="844.0" font-family="IPAGothic, sans-serif" font-size="102" stroke-width="0" letter-spacing="0">△</tspan><tspan x="2041.6" y="849.7">lac1</tspan></text>
</g>
</svg></body></html>
